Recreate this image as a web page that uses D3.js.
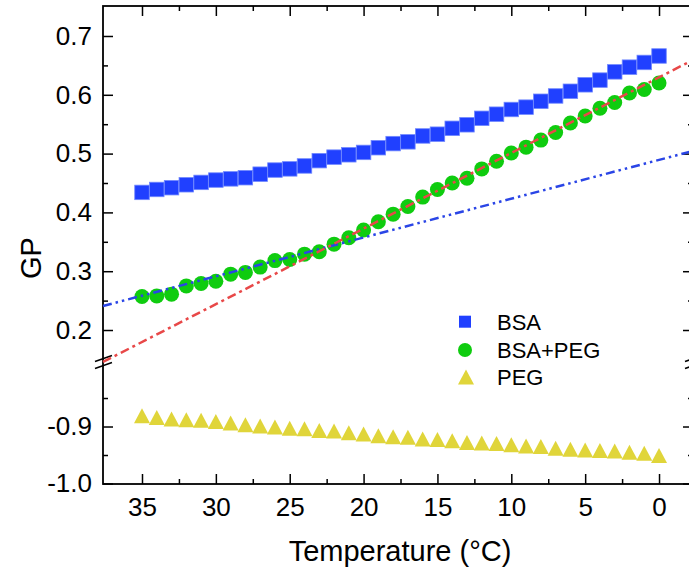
<!DOCTYPE html>
<html>
	<head>
		<meta charset="utf-8">
		<title>GP vs Temperature</title>
		<script src="https://d3js.org/d3.v7.min.js"></script>
		<style type="text/css">
			body { margin: 0; background: #fff; }
			.axis path { display: none; }
			.axis line { stroke: black; stroke-width: 1.5; }
			.axis text { font-family: "Liberation Sans", Arial, sans-serif; font-size: 26px; fill: black; }
		</style>
	</head>
	<body>
		<script type="text/javascript">

			//Datos
			var temps = [35, 34, 33, 32, 31, 30, 29, 28, 27, 26, 25, 24, 23, 22, 21, 20, 19, 18,
				17, 16, 15, 14, 13, 12, 11, 10, 9, 8, 7, 6, 5, 4, 3, 2, 1, 0];
			var bsa = [0.434, 0.439, 0.442, 0.447, 0.451, 0.455, 0.457, 0.459, 0.465, 0.472, 0.474, 0.479,
				0.488, 0.494, 0.498, 0.502, 0.510, 0.517, 0.520, 0.530, 0.533, 0.543, 0.549, 0.560,
				0.567, 0.575, 0.579, 0.589, 0.598, 0.606, 0.617, 0.625, 0.639, 0.647, 0.655, 0.666];
			var bsaPeg = [0.257, 0.258, 0.261, 0.275, 0.279, 0.283, 0.295, 0.298, 0.307, 0.318, 0.320, 0.329,
				0.333, 0.346, 0.357, 0.370, 0.384, 0.397, 0.410, 0.426, 0.439, 0.450, 0.458, 0.474,
				0.487, 0.501, 0.511, 0.523, 0.536, 0.552, 0.564, 0.577, 0.587, 0.603, 0.609, 0.620];
			var peg = [-0.881, -0.884, -0.887, -0.888, -0.889, -0.891, -0.894, -0.897, -0.899, -0.901, -0.903, -0.904,
				-0.907, -0.908, -0.911, -0.913, -0.916, -0.918, -0.919, -0.922, -0.923, -0.925, -0.928, -0.929,
				-0.930, -0.932, -0.934, -0.935, -0.938, -0.940, -0.941, -0.942, -0.943, -0.945, -0.947, -0.951];

			//Ajustes lineales: GP = a + b*T
			var fitNames = ['blue', 'red'];
			var fitA = [0.4893, 0.6297];
			var fitB = [-0.0066, -0.01286];

			var seriesNames = ['BSA', 'BSA+PEG', 'PEG'];

			var xTicks = [35, 30, 25, 20, 15, 10, 5, 0];
			var xMinor = [32.5, 27.5, 22.5, 17.5, 12.5, 7.5, 2.5];
			var yTopTicks = [0.2, 0.3, 0.4, 0.5, 0.6, 0.7];
			var yTopMinor = [0.25, 0.35, 0.45, 0.55, 0.65];
			var yBotTicks = [-1.0, -0.9];
			var yBotMinor = [-0.95, -0.85];

			//Dimensiones
			var svgWidth = 689;
			var svgHeight = 570;
			var plotLeft = 103, plotRight = 693, plotTop = 6, plotBottom = 484;
			var breakY = 362;

			var colors = { bsa: '#2040ff', bsaPeg: '#0fcc0f', peg: '#e0d53a', blue: '#2a45e6', red: '#e84848' };

			var xScale = d3.scaleLinear()
				.domain([37.64, -2.3])
				.range([plotLeft, plotRight]);

			//Eje Y partido: tramo superior y tramo inferior
			var yTop = d3.scaleLinear()
				.domain([0.1456, 0.751])
				.range([breakY, plotTop]);

			var yBot = d3.scaleLinear()
				.domain([-1.0, -0.7868])
				.range([plotBottom - 0.5, breakY]);

			var svg = d3.select('body')
				.append('svg')
				.attr('width', svgWidth)
				.attr('height', svgHeight);

			//Marco
			svg.append('rect')
				.attr('x', plotLeft)
				.attr('y', plotTop)
				.attr('width', plotRight - plotLeft)
				.attr('height', plotBottom - plotTop)
				.attr('fill', 'none')
				.attr('stroke', 'black')
				.attr('stroke-width', 1.8);

			//Ejes X (abajo y arriba)
			svg.append('g').attr('class', 'axis')
				.attr('transform', 'translate(0,' + plotBottom + ')')
				.call(d3.axisBottom(xScale).tickValues(xTicks).tickSize(-10).tickPadding(14).tickFormat(d3.format('d')));
			svg.append('g').attr('class', 'axis')
				.attr('transform', 'translate(0,' + plotBottom + ')')
				.call(d3.axisBottom(xScale).tickValues(xMinor).tickSize(-5).tickFormat(''));
			svg.append('g').attr('class', 'axis')
				.attr('transform', 'translate(0,' + plotTop + ')')
				.call(d3.axisTop(xScale).tickValues(xTicks).tickSize(-10).tickFormat(''));
			svg.append('g').attr('class', 'axis')
				.attr('transform', 'translate(0,' + plotTop + ')')
				.call(d3.axisTop(xScale).tickValues(xMinor).tickSize(-5).tickFormat(''));

			//Ejes Y (izquierda y derecha, dos tramos)
			[[yTop, yTopTicks, yTopMinor], [yBot, yBotTicks, yBotMinor]].forEach(function(p) {
				svg.append('g').attr('class', 'axis')
					.attr('transform', 'translate(' + plotLeft + ',0)')
					.call(d3.axisLeft(p[0]).tickValues(p[1]).tickSize(-10).tickPadding(11).tickFormat(function(d) {
						return d3.format('.1f')(d).replace('\u2212', '-');
					}));
				svg.append('g').attr('class', 'axis')
					.attr('transform', 'translate(' + plotLeft + ',0)')
					.call(d3.axisLeft(p[0]).tickValues(p[2]).tickSize(-5).tickFormat(''));
				svg.append('g').attr('class', 'axis')
					.attr('transform', 'translate(' + plotRight + ',0)')
					.call(d3.axisRight(p[0]).tickValues(p[1]).tickSize(-10).tickFormat(''));
				svg.append('g').attr('class', 'axis')
					.attr('transform', 'translate(' + plotRight + ',0)')
					.call(d3.axisRight(p[0]).tickValues(p[2]).tickSize(-5).tickFormat(''));
			});

			//Marcas de corte
			[plotLeft, plotRight].forEach(function(bx) {
				[-3.5, 3.5].forEach(function(off) {
					svg.append('line')
						.attr('x1', bx - 8).attr('y1', breakY + off + 3)
						.attr('x2', bx + 9).attr('y2', breakY + off - 3)
						.attr('stroke', 'black')
						.attr('stroke-width', 1.5);
				});
			});

			//Títulos
			svg.append('text')
				.attr('x', 400)
				.attr('y', 561)
				.attr('text-anchor', 'middle')
				.attr('font-family', '"Liberation Sans", Arial, sans-serif')
				.attr('font-size', '29px')
				.text('Temperature (°C)');

			svg.append('text')
				.attr('transform', 'translate(41,258) rotate(-90)')
				.attr('text-anchor', 'middle')
				.attr('font-family', '"Liberation Sans", Arial, sans-serif')
				.attr('font-size', '29px')
				.text('GP');

			//Puntos
			var triPath = 'M0,-7.5L8,7.5L-8,7.5Z';

			svg.append('g').selectAll('rect')
				.data(bsa)
				.enter()
				.append('rect')
				.attr('x', function(d, i) { return xScale(temps[i]) - 7.25; })
				.attr('y', function(d) { return yTop(d) - 7.25; })
				.attr('width', 14.5)
				.attr('height', 14.5)
				.attr('fill', colors.bsa)
				.attr('stroke', '#7088ff')
				.attr('stroke-width', 0.8);

			svg.append('g').selectAll('circle')
				.data(bsaPeg)
				.enter()
				.append('circle')
				.attr('cx', function(d, i) { return xScale(temps[i]); })
				.attr('cy', function(d) { return yTop(d); })
				.attr('r', 7.5)
				.attr('fill', colors.bsaPeg);

			svg.append('g').selectAll('path')
				.data(peg)
				.enter()
				.append('path')
				.attr('d', triPath)
				.attr('transform', function(d, i) {
					return 'translate(' + xScale(temps[i]) + ',' + yBot(d) + ')';
				})
				.attr('fill', colors.peg);

			//Rectas de ajuste (tramo superior)
			var xDom = xScale.domain();
			var dashes = ['9,4,2.5,4,2.5,4', '9,4,3,4'];
			fitNames.forEach(function(name, k) {
				svg.append('line')
					.attr('x1', xScale(xDom[0]))
					.attr('y1', yTop(fitA[k] + fitB[k] * xDom[0]))
					.attr('x2', xScale(xDom[1]))
					.attr('y2', yTop(fitA[k] + fitB[k] * xDom[1]))
					.attr('stroke', colors[name])
					.attr('stroke-width', 2.5)
					.attr('stroke-dasharray', dashes[k]);
			});

			//Leyenda
			var legendY = [321.7, 350, 377];
			var legend = svg.append('g');
			legend.append('rect')
				.attr('x', 459).attr('y', legendY[0] - 6)
				.attr('width', 12).attr('height', 12)
				.attr('fill', colors.bsa);
			legend.append('circle')
				.attr('cx', 465).attr('cy', legendY[1])
				.attr('r', 7)
				.attr('fill', colors.bsaPeg);
			legend.append('path')
				.attr('d', triPath)
				.attr('transform', 'translate(466,' + legendY[2] + ')')
				.attr('fill', colors.peg);
			legend.selectAll('text')
				.data(seriesNames)
				.enter()
				.append('text')
				.attr('x', 497)
				.attr('y', function(d, i) { return legendY[i]; })
				.attr('dy', '0.36em')
				.attr('font-family', '"Liberation Sans", Arial, sans-serif')
				.attr('font-size', '22px')
				.text(function(d) { return d; });

		</script>
	</body>
</html>
